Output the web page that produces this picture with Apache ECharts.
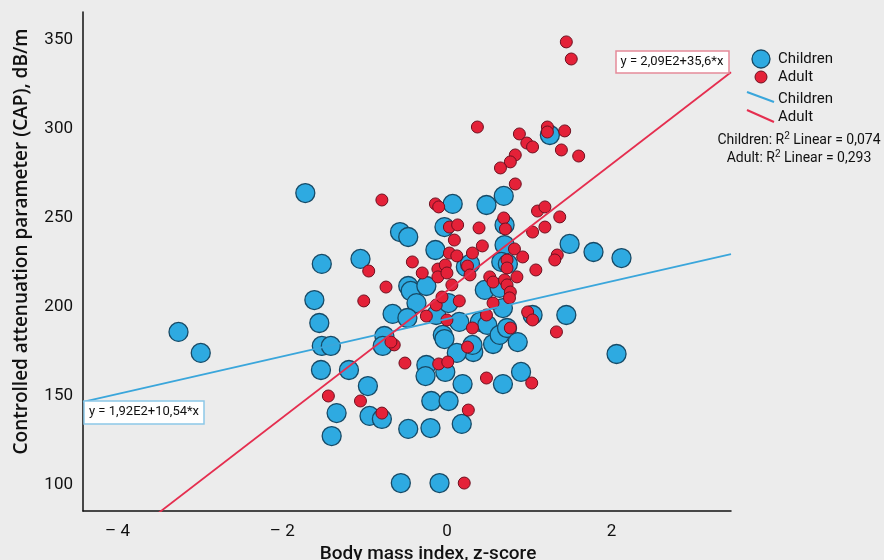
<!DOCTYPE html>
<html>
<head>
<meta charset="utf-8">
<script src="https://cdn.jsdelivr.net/npm/echarts@6/dist/echarts.min.js"></script>
<style>
  html, body { margin: 0; padding: 0; background: #ececec; }
  #main { width: 884px; height: 560px; }
</style>
</head>
<body>
<div id="main"></div>
<script>
// BMI z-score vs CAP
const childrenPoints = [
  [-1.72, 264.0], [-3.26, 186.0], [-2.99, 174.2], [-1.52, 224.2], [-1.61, 203.9],
  [-1.55, 191.0], [-1.52, 178.1], [-1.41, 178.1], [-1.53, 164.6], [-1.19, 164.6],
  [-1.34, 140.4], [-1.40, 127.5], [-1.05, 227.0], [-0.96, 155.6], [-0.94, 138.8],
  [-0.79, 137.1], [-0.76, 183.7], [-0.78, 178.1], [-0.66, 196.1], [-0.57, 242.1],
  [-0.47, 239.3], [-0.47, 211.8], [-0.44, 209.0], [-0.37, 202.2], [-0.48, 193.8],
  [-0.47, 131.5], [-0.56, 101.1], [-0.25, 211.8], [-0.14, 232.0], [-0.25, 167.4],
  [-0.26, 161.2], [-0.19, 147.2], [-0.20, 132.0], [-0.09, 101.1], [-0.03, 244.9],
  [0.07, 257.9], [-0.13, 195.5], [-0.05, 184.3], [-0.03, 182.0], [0.02, 202.2],
  [-0.02, 163.5], [0.02, 147.2], [0.19, 156.7], [0.18, 134.3], [0.23, 222.5],
  [0.28, 224.2], [0.15, 191.6], [0.32, 174.7], [0.31, 178.7], [0.40, 191.6],
  [0.49, 189.9], [0.46, 209.6], [0.64, 210.7], [0.68, 199.4], [0.56, 179.2],
  [0.70, 246.1], [0.70, 234.8], [0.66, 225.3], [0.74, 224.2], [0.64, 184.3],
  [0.73, 188.2], [0.86, 180.3], [0.90, 163.5], [0.68, 156.7], [0.69, 262.4],
  [0.48, 257.3], [0.12, 174.2], [1.04, 195.5], [1.45, 195.5], [1.49, 235.4],
  [1.78, 230.9], [2.12, 227.5], [2.06, 173.6], [1.25, 296.6]
];
const adultPoints = [
  [1.45, 348.9], [1.51, 339.3], [0.37, 301.1], [0.88, 297.2], [0.97, 292.1],
  [1.04, 289.9], [1.22, 301.1], [1.22, 298.3], [1.43, 298.9], [1.39, 288.2],
  [1.60, 284.8], [0.83, 285.4], [0.77, 281.5], [0.65, 278.1], [0.83, 269.1],
  [-0.79, 260.1], [-0.14, 257.9], [-0.10, 256.2], [1.10, 253.9], [1.19, 256.2],
  [1.37, 250.6], [0.03, 244.9], [0.13, 246.1], [0.39, 244.4], [0.69, 250.0],
  [0.71, 243.8], [1.04, 242.1], [1.19, 244.9], [0.09, 237.6], [0.43, 234.3],
  [0.82, 232.6], [1.34, 229.2], [1.31, 226.4], [0.92, 228.1], [0.31, 230.3],
  [0.03, 230.3], [0.12, 228.7], [-0.42, 225.3], [-0.30, 219.1], [-0.11, 221.3],
  [-0.02, 223.6], [-0.11, 216.9], [0.00, 219.1], [0.25, 223.0], [0.28, 218.0],
  [0.73, 226.4], [0.73, 221.9], [0.85, 216.9], [1.08, 220.8], [0.52, 216.9],
  [0.56, 214.0], [0.70, 215.2], [0.73, 212.4], [0.77, 208.4], [0.76, 205.1],
  [0.56, 202.2], [0.48, 195.5], [0.31, 188.2], [0.06, 212.4], [0.15, 203.4],
  [-0.13, 201.1], [-0.06, 205.6], [-0.25, 194.9], [0.00, 192.7], [-0.74, 211.2],
  [-0.95, 220.2], [-1.01, 203.4], [-0.64, 178.7], [-0.68, 180.3], [0.25, 177.5],
  [0.98, 197.2], [1.04, 192.7], [0.77, 188.2], [1.33, 186.0], [-0.10, 168.0],
  [0.01, 169.1], [-0.51, 168.5], [0.48, 160.1], [1.03, 157.3], [0.26, 142.1],
  [-0.79, 140.4], [-1.05, 147.2], [-1.44, 150.0], [0.21, 101.1]
];
// fitted lines [intercept, slope] as drawn
const childrenFit = [193.3, 10.54];
const adultFit = [209, 35.6];
const xTicks = [-4, -2, 0, 2];
const yTicks = [100, 150, 200, 250, 300, 350];
const xRange = [-4.42, 3.45];
const yRange = [85.4, 365.7];

const blue = '#2eaae1', blueEdge = '#174a66';
const red = '#e42138', redEdge = '#6e1020';
const blueLine = '#3aa6db', redLine = '#e52e4f';
const tickFont = 'Roboto';

function fitLine(fit) {
  return xRange.map(x => [x, fit[0] + fit[1] * x]);
}

const chart = echarts.init(document.getElementById('main'));
chart.setOption({
  backgroundColor: '#ececec',
  animation: false,
  grid: { left: 83, right: 153, top: 12, bottom: 49, containLabel: false, outerBoundsMode: 'none' },
  xAxis: {
    type: 'value', min: xRange[0], max: xRange[1],
    name: 'Body mass index, z-score', nameLocation: 'middle', nameGap: 29,
    nameTextStyle: { fontFamily: 'Roboto', fontSize: 19, fontWeight: 500, color: '#111', padding: [0, 0, 0, 42] },
    axisLine: { onZero: false, lineStyle: { color: '#111', width: 1.5 } },
    axisTick: { show: false },
    splitLine: { show: false },
    axisLabel: {
      customValues: xTicks, margin: 12,
      fontFamily: tickFont, fontSize: 17, color: '#111',
      formatter: v => v < 0 ? '\u2013 ' + Math.abs(v) : String(v)
    }
  },
  yAxis: {
    type: 'value', min: yRange[0], max: yRange[1],
    name: 'Controlled attenuation parameter (CAP), dB/m', nameLocation: 'middle', nameGap: 52,
    nameTextStyle: { fontFamily: 'Open Sans', fontSize: 19, fontWeight: 600, color: '#111', padding: [0, 0, 0, 40] },
    axisLine: { show: true, onZero: false, lineStyle: { color: '#111', width: 1.5 } },
    axisTick: { show: false },
    splitLine: { show: false },
    axisLabel: {
      customValues: yTicks, margin: 10,
      fontFamily: tickFont, fontSize: 17, color: '#111'
    }
  },
  series: [
    {
      name: 'Children', type: 'scatter', data: childrenPoints, symbolSize: 19, z: 2,
      itemStyle: { color: blue, borderColor: blueEdge, borderWidth: 1.3, opacity: 1 }
    },
    {
      name: 'Adult', type: 'scatter', data: adultPoints, symbolSize: 12, z: 3,
      itemStyle: { color: red, borderColor: redEdge, borderWidth: 1, opacity: 1 }
    },
    {
      name: 'Children fit', type: 'line', data: fitLine(childrenFit), showSymbol: false, z: 4,
      lineStyle: { color: blueLine, width: 1.8 }, clip: true
    },
    {
      name: 'Adult fit', type: 'line', data: fitLine(adultFit), showSymbol: false, z: 4,
      lineStyle: { color: redLine, width: 1.8 }, clip: true
    }
  ],
  graphic: [
    // equation boxes
    { type: 'rect', shape: { x: 616, y: 51, width: 113, height: 22 }, style: { fill: '#fff', stroke: '#e58a99', lineWidth: 1.5 }, z: 10 },
    { type: 'text', x: 672, y: 62, style: { text: 'y = 2,09E2+35,6*x', font: '13px Roboto', fill: '#111', align: 'center', verticalAlign: 'middle' }, z: 11 },
    { type: 'rect', shape: { x: 84, y: 401, width: 120, height: 23 }, style: { fill: '#fff', stroke: '#8cc8e8', lineWidth: 1.5 }, z: 10 },
    { type: 'text', x: 144, y: 412, style: { text: 'y = 1,92E2+10,54*x', font: '13px Roboto', fill: '#111', align: 'center', verticalAlign: 'middle' }, z: 11 },
    // legend
    { type: 'circle', shape: { cx: 761, cy: 59, r: 9 }, style: { fill: blue, stroke: blueEdge, lineWidth: 1.3 } },
    { type: 'text', x: 778, y: 59, style: { text: 'Children', font: '15px Roboto', fill: '#111', verticalAlign: 'middle' } },
    { type: 'circle', shape: { cx: 761, cy: 77, r: 6 }, style: { fill: red, stroke: redEdge, lineWidth: 1 } },
    { type: 'text', x: 778, y: 77, style: { text: 'Adult', font: '15px Roboto', fill: '#111', verticalAlign: 'middle' } },
    { type: 'line', shape: { x1: 747, y1: 92, x2: 774, y2: 102 }, style: { stroke: blueLine, lineWidth: 2 } },
    { type: 'text', x: 778, y: 99, style: { text: 'Children', font: '15px Roboto', fill: '#111', verticalAlign: 'middle' } },
    { type: 'line', shape: { x1: 747, y1: 110, x2: 774, y2: 122 }, style: { stroke: redLine, lineWidth: 2 } },
    { type: 'text', x: 778, y: 117, style: { text: 'Adult', font: '15px Roboto', fill: '#111', verticalAlign: 'middle' } },
    {
      type: 'text', x: 799, y: 140,
      style: {
        text: 'Children: R{s|2} Linear = 0,074', font: '14px Roboto', fill: '#111',
        align: 'center', verticalAlign: 'middle',
        rich: { s: { fontSize: 10, verticalAlign: 'top', padding: [0, 0, 8, 0] } }
      }
    },
    {
      type: 'text', x: 799, y: 158,
      style: {
        text: 'Adult: R{s|2} Linear = 0,293', font: '14px Roboto', fill: '#111',
        align: 'center', verticalAlign: 'middle',
        rich: { s: { fontSize: 10, verticalAlign: 'top', padding: [0, 0, 8, 0] } }
      }
    }
  ]
});
</script>
</body>
</html>
